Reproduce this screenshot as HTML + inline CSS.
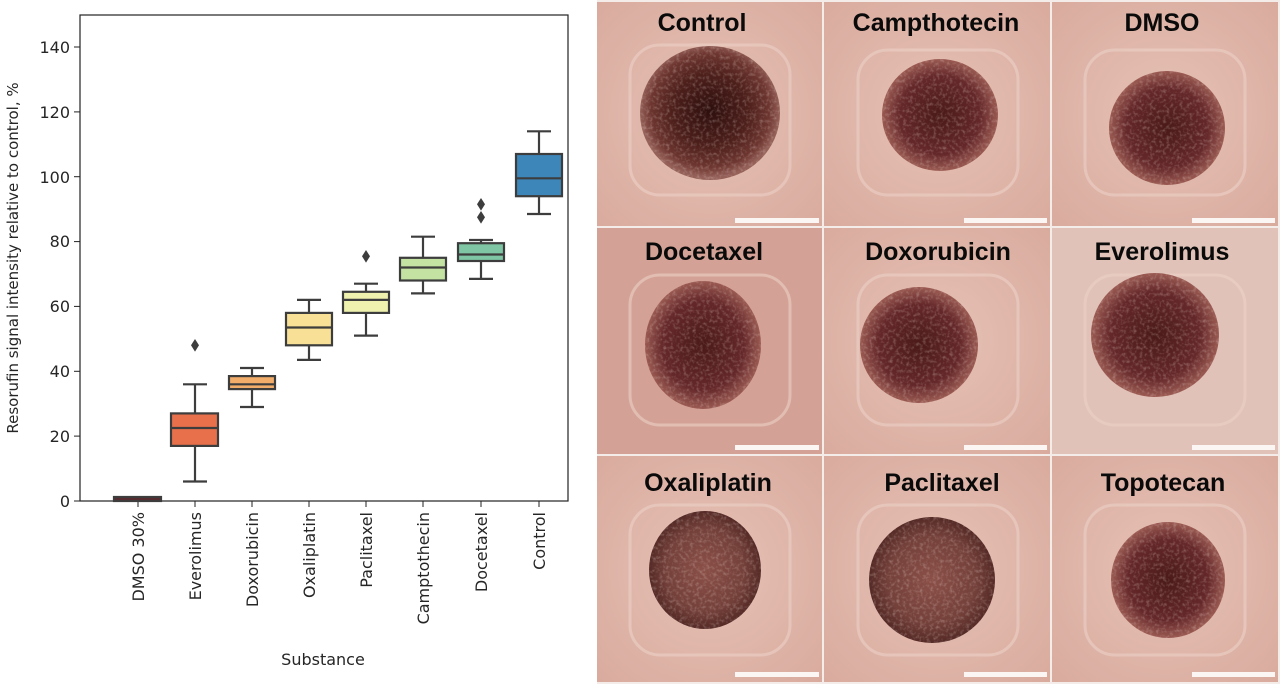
<!DOCTYPE html>
<html><head><meta charset="utf-8"><style>
html,body{margin:0;padding:0;background:#fff;width:1280px;height:684px;overflow:hidden}
svg{display:block}
</style></head><body>
<svg width="1280" height="684" viewBox="0 0 1280 684" xmlns="http://www.w3.org/2000/svg">
<defs>
<radialGradient id="sph" cx="50%" cy="48%" r="50%">
<stop offset="0" stop-color="#2e0f0d"/><stop offset="0.55" stop-color="#4e201c"/><stop offset="0.85" stop-color="#6e3630"/><stop offset="1" stop-color="#946058"/>
</radialGradient>
<radialGradient id="sph2" cx="50%" cy="50%" r="50%">
<stop offset="0" stop-color="#4a1a18"/><stop offset="0.7" stop-color="#65282a"/><stop offset="1" stop-color="#9a5a52"/>
</radialGradient>
<radialGradient id="sph3" cx="50%" cy="50%" r="50%">
<stop offset="0" stop-color="#8a5048"/><stop offset="0.7" stop-color="#74403a"/><stop offset="1" stop-color="#552a26"/>
</radialGradient>
<radialGradient id="bg" cx="50%" cy="50%" r="70%">
<stop offset="0" stop-color="#e6c2b6"/><stop offset="1" stop-color="#d9ab9e"/>
</radialGradient>
<filter id="tex"><feTurbulence type="fractalNoise" baseFrequency="0.3" numOctaves="2" seed="3"/><feColorMatrix values="0 0 0 0 0.9  0 0 0 0 0.78  0 0 0 0 0.72  0 0 0 1.2 -0.55"/><feComposite in2="SourceGraphic" operator="in"/></filter>
</defs>
<g font-family="'DejaVu Sans','Liberation Sans',sans-serif" fill="#262626" font-size="16">
<rect x="80" y="15" width="488" height="486" fill="none" stroke="#222" stroke-width="1.2"/>
<g stroke="#222" stroke-width="1">
<line x1="74" y1="501" x2="80" y2="501"/><line x1="74" y1="436.1" x2="80" y2="436.1"/><line x1="74" y1="371.3" x2="80" y2="371.3"/><line x1="74" y1="306.4" x2="80" y2="306.4"/><line x1="74" y1="241.6" x2="80" y2="241.6"/><line x1="74" y1="176.7" x2="80" y2="176.7"/><line x1="74" y1="111.9" x2="80" y2="111.9"/><line x1="74" y1="47" x2="80" y2="47"/>
</g>
<g text-anchor="end">
<text x="70" y="507">0</text><text x="70" y="442">20</text><text x="70" y="377">40</text><text x="70" y="312">60</text><text x="70" y="247">80</text><text x="70" y="183">100</text><text x="70" y="118">120</text><text x="70" y="53">140</text>
</g>
<text transform="translate(18,258) rotate(-90)" text-anchor="middle" font-size="15">Resorufin signal intensity relative to control, %</text>
<text x="323" y="665" text-anchor="middle" font-size="16">Substance</text>
<g stroke="#222" stroke-width="1">
<line x1="138" y1="501" x2="138" y2="507"/><line x1="195" y1="501" x2="195" y2="507"/><line x1="252" y1="501" x2="252" y2="507"/><line x1="309" y1="501" x2="309" y2="507"/><line x1="366" y1="501" x2="366" y2="507"/><line x1="423" y1="501" x2="423" y2="507"/><line x1="481" y1="501" x2="481" y2="507"/><line x1="539" y1="501" x2="539" y2="507"/>
</g>
<g text-anchor="end" font-size="16">
<text transform="translate(144,512) rotate(-90)">DMSO 30%</text>
<text transform="translate(201,512) rotate(-90)">Everolimus</text>
<text transform="translate(258,512) rotate(-90)">Doxorubicin</text>
<text transform="translate(315,512) rotate(-90)">Oxaliplatin</text>
<text transform="translate(372,512) rotate(-90)">Paclitaxel</text>
<text transform="translate(429,512) rotate(-90)">Camptothecin</text>
<text transform="translate(487,512) rotate(-90)">Docetaxel</text>
<text transform="translate(545,512) rotate(-90)">Control</text>
</g>
<g stroke="#3d3d3d" stroke-width="2.2">
<rect x="114" y="497" width="47" height="4" fill="#5a2a30"/>
<line x1="195" y1="481.5" x2="195" y2="445.9"/><line x1="195" y1="413.4" x2="195" y2="384.3"/>
<line x1="183" y1="481.5" x2="207" y2="481.5"/><line x1="183" y1="384.3" x2="207" y2="384.3"/>
<rect x="171" y="413.4" width="47" height="32.5" fill="#e8714c"/><line x1="171" y1="428" x2="218" y2="428"/>
<line x1="252" y1="407" x2="252" y2="389.1"/><line x1="252" y1="376.1" x2="252" y2="368"/>
<line x1="240" y1="407" x2="264" y2="407"/><line x1="240" y1="368" x2="264" y2="368"/>
<rect x="229" y="376.1" width="46" height="13" fill="#f3ad6a"/><line x1="229" y1="384.3" x2="275" y2="384.3"/>
<line x1="309" y1="359.9" x2="309" y2="345.3"/><line x1="309" y1="312.9" x2="309" y2="299.9"/>
<line x1="297" y1="359.9" x2="321" y2="359.9"/><line x1="297" y1="299.9" x2="321" y2="299.9"/>
<rect x="286" y="312.9" width="46" height="32.4" fill="#f8e096"/><line x1="286" y1="327.5" x2="332" y2="327.5"/>
<line x1="366" y1="335.6" x2="366" y2="312.9"/><line x1="366" y1="291.8" x2="366" y2="283.7"/>
<line x1="354" y1="335.6" x2="378" y2="335.6"/><line x1="354" y1="283.7" x2="378" y2="283.7"/>
<rect x="343" y="291.8" width="46" height="21.1" fill="#eff2ae"/><line x1="343" y1="299.9" x2="389" y2="299.9"/>
<line x1="423" y1="293.4" x2="423" y2="280.5"/><line x1="423" y1="257.8" x2="423" y2="236.7"/>
<line x1="411" y1="293.4" x2="435" y2="293.4"/><line x1="411" y1="236.7" x2="435" y2="236.7"/>
<rect x="400" y="257.8" width="46" height="22.7" fill="#c4e3a2"/><line x1="400" y1="267.5" x2="446" y2="267.5"/>
<line x1="481" y1="278.9" x2="481" y2="261"/><line x1="481" y1="243.2" x2="481" y2="240"/>
<line x1="469" y1="278.9" x2="493" y2="278.9"/><line x1="469" y1="240" x2="493" y2="240"/>
<rect x="458" y="243.2" width="46" height="17.8" fill="#7fc6a4"/><line x1="458" y1="254.5" x2="504" y2="254.5"/>
<line x1="539" y1="214" x2="539" y2="196.2"/><line x1="539" y1="154" x2="539" y2="131.3"/>
<line x1="527" y1="214" x2="551" y2="214"/><line x1="527" y1="131.3" x2="551" y2="131.3"/>
<rect x="516" y="154" width="46" height="42.2" fill="#3c86ba"/><line x1="516" y1="178.3" x2="562" y2="178.3"/>
</g>
<g fill="#3d3d3d">
<path d="M195 339 l4 6.3 l-4 6.3 l-4 -6.3z"/>
<path d="M366 250 l4 6.3 l-4 6.3 l-4 -6.3z"/>
<path d="M481 211 l4 6.3 l-4 6.3 l-4 -6.3z"/>
<path d="M481 198 l4 6.3 l-4 6.3 l-4 -6.3z"/>
</g>
</g>
<g>
<rect x="597" y="0" width="683" height="684" fill="#f4ece9"/>
<rect x="597" y="2" width="225" height="224" fill="url(#bg)"/>
<rect x="824" y="2" width="226" height="224" fill="url(#bg)"/>
<rect x="1052" y="2" width="226" height="224" fill="url(#bg)"/>
<rect x="597" y="228" width="225" height="226" fill="#d3a195"/>
<rect x="824" y="228" width="226" height="226" fill="url(#bg)"/>
<rect x="1052" y="228" width="226" height="226" fill="#e0c2b8"/>
<rect x="597" y="456" width="225" height="226" fill="url(#bg)"/>
<rect x="824" y="456" width="226" height="226" fill="url(#bg)"/>
<rect x="1052" y="456" width="226" height="226" fill="url(#bg)"/>
<g fill="none" stroke="#ecd0c6" stroke-width="3" opacity="0.6">
<rect x="630" y="45" width="160" height="150" rx="30"/><rect x="858" y="50" width="160" height="145" rx="30"/><rect x="1085" y="50" width="160" height="145" rx="30"/>
<rect x="630" y="275" width="160" height="150" rx="30"/><rect x="858" y="275" width="160" height="150" rx="30"/><rect x="1085" y="275" width="160" height="150" rx="30"/>
<rect x="630" y="505" width="160" height="150" rx="30"/><rect x="858" y="505" width="160" height="150" rx="30"/><rect x="1085" y="505" width="160" height="150" rx="30"/>
</g>
<ellipse cx="710" cy="113" rx="70" ry="67" fill="url(#sph)"/>
<ellipse cx="940" cy="115" rx="58" ry="56" fill="url(#sph2)"/>
<ellipse cx="1167" cy="128" rx="58" ry="57" fill="url(#sph2)"/>
<ellipse cx="703" cy="345" rx="58" ry="64" fill="url(#sph2)"/>
<ellipse cx="919" cy="345" rx="59" ry="58" fill="url(#sph2)"/>
<ellipse cx="1155" cy="335" rx="64" ry="62" fill="url(#sph2)"/>
<ellipse cx="705" cy="570" rx="56" ry="59" fill="url(#sph3)"/>
<ellipse cx="932" cy="580" rx="63" ry="63" fill="url(#sph3)"/>
<ellipse cx="1168" cy="580" rx="57" ry="58" fill="url(#sph2)"/>
<g filter="url(#tex)" opacity="0.55">
<ellipse cx="710" cy="113" rx="70" ry="67" fill="#000"/><ellipse cx="940" cy="115" rx="58" ry="56" fill="#000"/><ellipse cx="1167" cy="128" rx="58" ry="57" fill="#000"/>
<ellipse cx="703" cy="345" rx="58" ry="64" fill="#000"/><ellipse cx="919" cy="345" rx="59" ry="58" fill="#000"/><ellipse cx="1155" cy="335" rx="64" ry="62" fill="#000"/>
<ellipse cx="705" cy="570" rx="56" ry="59" fill="#000"/><ellipse cx="932" cy="580" rx="63" ry="63" fill="#000"/><ellipse cx="1168" cy="580" rx="57" ry="58" fill="#000"/>
</g>
<g fill="#fbf6f4">
<rect x="735" y="218" width="84" height="5"/><rect x="964" y="218" width="83" height="5"/><rect x="1192" y="218" width="83" height="5"/>
<rect x="735" y="445" width="84" height="5"/><rect x="964" y="445" width="83" height="5"/><rect x="1192" y="445" width="83" height="5"/>
<rect x="735" y="672" width="84" height="5"/><rect x="964" y="672" width="83" height="5"/><rect x="1192" y="672" width="83" height="5"/>
</g>
<g font-family="'Liberation Sans',sans-serif" font-weight="bold" font-size="25" fill="#0a0a0a" text-anchor="middle">
<text x="702" y="31">Control</text><text x="936" y="31">Campthotecin</text><text x="1162" y="31">DMSO</text>
<text x="704" y="260">Docetaxel</text><text x="938" y="260">Doxorubicin</text><text x="1162" y="260">Everolimus</text>
<text x="708" y="491">Oxaliplatin</text><text x="942" y="491">Paclitaxel</text><text x="1163" y="491">Topotecan</text>
</g>
</g>
</svg>
</body></html>
